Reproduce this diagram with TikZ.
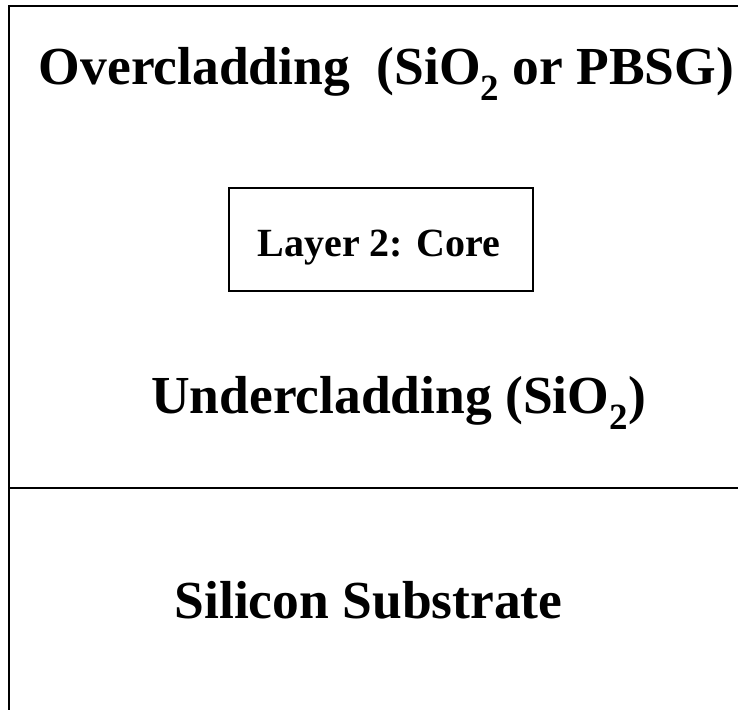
\documentclass[tikz,border=0pt]{standalone}
\usepackage{fontspec}
\setmainfont{Liberation Serif}
% lowered subscript digit for the large labels
\newcommand\chemsub[1]{\raisebox{-0.3em}{\fontsize{37}{40}\selectfont\bfseries #1}}
\begin{document}
\begin{tikzpicture}[x=1pt,y=-1pt,
  edge/.style={line width=2.2pt,line cap=rect},
  corebox/.style={draw,line width=2pt,minimum width=304pt,minimum height=103pt,inner sep=0pt},
  bigtext/.style={font=\fontsize{53.5}{60}\selectfont\bfseries,anchor=base,inner sep=0pt},
  coretext/.style={font=\fontsize{40}{46}\selectfont\bfseries,anchor=base,inner sep=0pt}]
  \useasboundingbox (0,0) rectangle (738,709);
  % outline of the stack
  \coordinate (tl) at (9,6);
  \coordinate (tr) at (738,6);
  \coordinate (bl) at (9,709);
  \coordinate (ml) at (9,488);
  \coordinate (mr) at (738,488);
  \draw[edge] (tr) -- (tl) -- (bl);
  \draw[edge] (ml) -- (mr);
  % waveguide core
  \node[corebox] (core) at (381,239.5) {};
  \node[coretext] (coretxt) at (379,256) {Layer 2: Core};
  % layer labels
  \node[bigtext] (over) at (386.5,84) {Overcladding\ \ (SiO\chemsub{2} or PBSG)};
  \node[bigtext] (under) at (398.5,413) {Undercladding (SiO\chemsub{2})};
  \node[bigtext] (subs) at (368.5,618) {Silicon Substrate};
\end{tikzpicture}
\end{document}
